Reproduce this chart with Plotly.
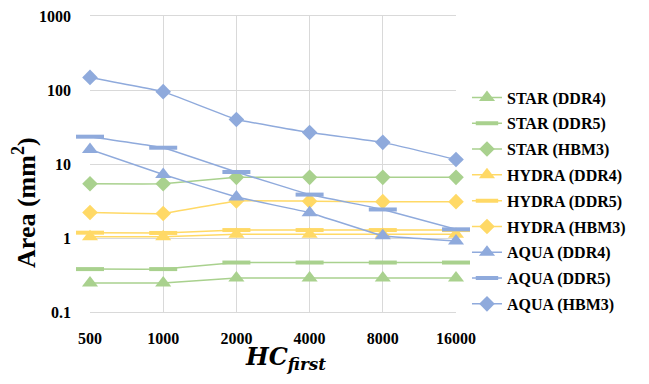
import plotly.graph_objects as go

categories = ["500", "1000", "2000", "4000", "8000", "16000"]

star_ddr4 = [0.247, 0.247, 0.288, 0.288, 0.288, 0.288]
star_ddr5 = [0.38, 0.38, 0.466, 0.466, 0.466, 0.466]
star_hbm3 = [5.4, 5.4, 6.6, 6.6, 6.6, 6.6]
hydra_ddr4 = [1.04, 1.04, 1.12, 1.12, 1.12, 1.12]
hydra_ddr5 = [1.18, 1.17, 1.28, 1.28, 1.28, 1.28]
hydra_hbm3 = [2.21, 2.14, 3.17, 3.15, 3.1, 3.1]
aqua_ddr4 = [15.7, 7.2, 3.58, 2.2, 1.07, 0.91]
aqua_ddr5 = [23.4, 16.6, 7.8, 3.86, 2.43, 1.31]
aqua_hbm3 = [148, 95, 40, 26.7, 19.6, 11.5]

y_tickvals = [0.1, 1, 10, 100, 1000]
y_ticktext = ["<b>0.1</b>", "<b>1</b>", "<b>10</b>", "<b>100</b>", "<b>1000</b>"]

GREEN = "#A9D18E"
YELLOW = "#FFD966"
BLUE = "#8FAADC"

series = [
    ("STAR (DDR4)", star_ddr4, GREEN, "triangle-up"),
    ("STAR (DDR5)", star_ddr5, GREEN, "line-ew"),
    ("STAR (HBM3)", star_hbm3, GREEN, "diamond"),
    ("HYDRA (DDR4)", hydra_ddr4, YELLOW, "triangle-up"),
    ("HYDRA (DDR5)", hydra_ddr5, YELLOW, "line-ew"),
    ("HYDRA (HBM3)", hydra_hbm3, YELLOW, "diamond"),
    ("AQUA (DDR4)", aqua_ddr4, BLUE, "triangle-up"),
    ("AQUA (DDR5)", aqua_ddr5, BLUE, "line-ew"),
    ("AQUA (HBM3)", aqua_hbm3, BLUE, "diamond"),
]

fig = go.Figure()
for i, (name, vals, color, sym) in enumerate(series):
    if sym == "line-ew":
        marker = dict(symbol=sym, size=20, color=color, line=dict(color=color, width=4))
    elif sym == "diamond":
        marker = dict(symbol=sym, size=12, color=color, line=dict(width=0))
    else:
        marker = dict(symbol=sym, size=14, color=color, line=dict(width=0))
    fig.add_trace(go.Scatter(
        x=categories, y=vals, name=f"<b>{name}</b>", mode="lines+markers",
        line=dict(color=color, width=1.5, shape="spline", smoothing=0.2),
        marker=marker, cliponaxis=False, legendgroup=f"g{i}",
    ))

serif = "Liberation Serif"

# page body has an 8px default margin, so margins are shifted to compensate
fig.update_layout(
    width=649, height=384,
    margin=dict(l=82, r=201, t=8, b=80, autoexpand=False),
    plot_bgcolor="white", paper_bgcolor="white",
    font=dict(family=serif, color="black"),
    showlegend=True,
    legend=dict(
        x=1.03, y=0.782, xanchor="left", yanchor="top",
        font=dict(family=serif, size=16, color="black"),
        tracegroupgap=2, itemwidth=30, bgcolor="rgba(0,0,0,0)",
    ),
    xaxis=dict(
        type="category", range=[0, 5], showgrid=True, gridcolor="#D9D9D9",
        gridwidth=1, zeroline=False, showline=True, mirror=True,
        linecolor="#D9D9D9", linewidth=1, layer="below traces",
        tickvals=categories, ticktext=[f"<b>{c}</b>" for c in categories],
        tickfont=dict(family=serif, size=16, color="black"),
        ticklabelstandoff=12, automargin=False, ticklabeloverflow="allow",
    ),
    yaxis=dict(
        type="log", range=[-1, 3], tickvals=y_tickvals, ticktext=y_ticktext,
        showgrid=True, gridcolor="#D9D9D9", gridwidth=1, zeroline=False,
        showline=False,
        tickfont=dict(family=serif, size=16, color="black"),
        ticklabelstandoff=18, automargin=False, ticklabeloverflow="allow",
    ),
    annotations=[
        dict(text="<b>Area (mm<sup>2</sup>)</b>", x=-0.179, y=0.37,
             xref="paper", yref="paper", textangle=-90, showarrow=False,
             xanchor="center", yanchor="middle",
             font=dict(family=serif, size=26, color="black")),
        dict(text="<b><i>HC</i></b><sub><b><i>first</i></b></sub>", x=0.535, y=-0.155,
             xref="paper", yref="paper", showarrow=False, yanchor="middle",
             xanchor="center",
             font=dict(family="DejaVu Serif", size=24, color="black")),
    ],
)

fig.write_html("out.html")
